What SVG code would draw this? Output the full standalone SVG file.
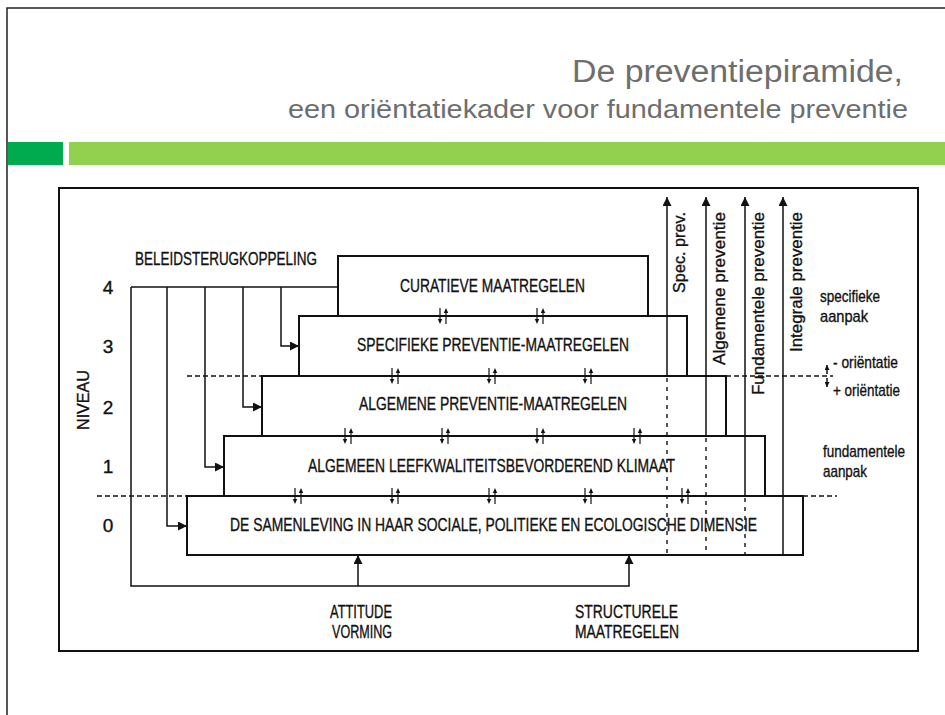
<svg xmlns="http://www.w3.org/2000/svg" width="945" height="715" viewBox="0 0 945 715">
<style>
text{font-family:"Liberation Sans",Arial,sans-serif;fill:#111}
.ttl{fill:#6e6e6e}
.d{stroke:#111;stroke-width:0.35}
.box{fill:#fff;stroke:#111;stroke-width:2}
.ln{fill:none;stroke:#111;stroke-width:1.5}
.dash{fill:none;stroke:#111;stroke-width:1.5;stroke-dasharray:5 3}
.vdash{fill:none;stroke:#111;stroke-width:1.4;stroke-dasharray:4 5}
.lbl{font-size:19px;text-anchor:middle}
.num{font-size:19px;text-anchor:middle}
.side{font-size:17px}
.vt{font-size:17px;text-anchor:end}
</style>
<defs>
<marker id="ah" viewBox="0 0 10 10" refX="10" refY="5" markerWidth="9" markerHeight="9" markerUnits="userSpaceOnUse" orient="auto">
<path d="M0,0 L10,5 L0,10 z" fill="#111"/>
</marker>
<marker id="ahs" viewBox="0 0 10 10" refX="10" refY="5" markerWidth="5" markerHeight="5" markerUnits="userSpaceOnUse" orient="auto">
<path d="M0,0 L10,5 L0,10 z" fill="#111"/>
</marker>
<g id="pair">
<path d="M-3,-8 V3" stroke="#111" stroke-width="1.2" fill="none"/>
<path d="M-5.2,3 L-0.8,3 L-3,8 z" fill="#111"/>
<path d="M3,8 V-3" stroke="#111" stroke-width="1.2" fill="none"/>
<path d="M0.8,-3 L5.2,-3 L3,-8 z" fill="#111"/>
</g>
</defs>
<rect x="0" y="0" width="945" height="715" fill="#fff"/>
<g id="slide-frame">
<path d="M7,715 V8 H945" fill="none" stroke="#222" stroke-width="1.5"/>
</g>
<g id="title">
<text class="ttl" x="903" y="82" font-size="31" text-anchor="end" textLength="331" lengthAdjust="spacingAndGlyphs">De preventiepiramide,</text>
<text class="ttl" x="908" y="118" font-size="26" text-anchor="end" textLength="620" lengthAdjust="spacingAndGlyphs">een oriëntatiekader voor fundamentele preventie</text>
</g>
<g id="bars">
<rect x="8" y="142" width="55" height="23" fill="#00aa4f"/>
<rect x="69" y="142" width="876" height="23" fill="#92d050"/>
</g>
<g id="frame">
<rect x="59" y="188" width="859" height="463" fill="none" stroke="#111" stroke-width="2"/>
</g>
<g id="node-level0"><rect class="box" x="187" y="496" width="616" height="59"/>
<text class="lbl d" x="493.5" y="531" textLength="527" lengthAdjust="spacingAndGlyphs">DE SAMENLEVING IN HAAR SOCIALE, POLITIEKE EN ECOLOGISCHE DIMENSIE</text></g>
<g id="node-level1"><rect class="box" x="224" y="436" width="541" height="60"/>
<text class="lbl d" x="491.5" y="472" textLength="367" lengthAdjust="spacingAndGlyphs">ALGEMEEN LEEFKWALITEITSBEVORDEREND KLIMAAT</text></g>
<g id="node-level2"><rect class="box" x="262" y="376" width="464" height="60"/>
<text class="lbl d" x="493" y="410" textLength="268" lengthAdjust="spacingAndGlyphs">ALGEMENE PREVENTIE-MAATREGELEN</text></g>
<g id="node-level3"><rect class="box" x="299" y="316" width="388" height="60"/>
<text class="lbl d" x="493" y="351" textLength="272" lengthAdjust="spacingAndGlyphs">SPECIFIEKE PREVENTIE-MAATREGELEN</text></g>
<g id="node-level4"><rect class="box" x="338" y="256" width="310" height="60"/>
<text class="lbl d" x="492.5" y="292" textLength="185" lengthAdjust="spacingAndGlyphs">CURATIEVE MAATREGELEN</text></g>
<g id="connectors">
<path class="ln" d="M131,287 H338"/>
<path class="ln" d="M281,287 V346 H299" marker-end="url(#ah)"/>
<path class="ln" d="M243,287 V407 H262" marker-end="url(#ah)"/>
<path class="ln" d="M205,287 V467 H224" marker-end="url(#ah)"/>
<path class="ln" d="M167,287 V526 H187" marker-end="url(#ah)"/>
<path class="ln" d="M131,287 V586 H629 V555" marker-end="url(#ah)"/>
<path class="ln" d="M358,586 V555" marker-end="url(#ah)"/>
<path class="ln" d="M667,376 V197" marker-end="url(#ah)"/>
<path class="vdash" d="M667,378 V555"/>
<path class="ln" d="M706,436 V197" marker-end="url(#ah)"/>
<path class="vdash" d="M706,438 V555"/>
<path class="ln" d="M745,496 V197" marker-end="url(#ah)"/>
<path class="vdash" d="M745,498 V555"/>
<path class="ln" d="M783,555 V197" marker-end="url(#ah)"/>
<path class="dash" d="M187,376 H262"/>
<path class="dash" d="M726,376 H833"/>
<path class="dash" d="M97,496 H187"/>
<path class="dash" d="M803,496 H837"/>
<path class="ln" d="M827,374 V365" marker-end="url(#ahs)"/>
<path class="ln" d="M827,378 V387" marker-end="url(#ahs)"/>
<use href="#pair" x="443" y="316"/>
<use href="#pair" x="540" y="316"/>
<use href="#pair" x="395" y="376"/>
<use href="#pair" x="492" y="376"/>
<use href="#pair" x="588" y="376"/>
<use href="#pair" x="348" y="436"/>
<use href="#pair" x="445" y="436"/>
<use href="#pair" x="540" y="436"/>
<use href="#pair" x="637" y="436"/>
<use href="#pair" x="298" y="496"/>
<use href="#pair" x="395" y="496"/>
<use href="#pair" x="492" y="496"/>
<use href="#pair" x="588" y="496"/>
<use href="#pair" x="685" y="496"/>
</g>
<g id="labels">
<text class="d" x="135" y="265" font-size="18" textLength="182" lengthAdjust="spacingAndGlyphs">BELEIDSTERUGKOPPELING</text>
<text class="num d" x="108" y="294">4</text>
<text class="num d" x="108" y="353">3</text>
<text class="num d" x="108" y="414">2</text>
<text class="num d" x="108" y="473">1</text>
<text class="num d" x="108" y="532">0</text>
<text class="d" font-size="17" text-anchor="middle" transform="translate(89,400) rotate(-90)" textLength="60" lengthAdjust="spacingAndGlyphs">NIVEAU</text>
<text class="vt d" transform="translate(685,212) rotate(-90)" textLength="81" lengthAdjust="spacingAndGlyphs">Spec. prev.</text>
<text class="vt d" transform="translate(725,212) rotate(-90)" textLength="153" lengthAdjust="spacingAndGlyphs">Algemene preventie</text>
<text class="vt d" transform="translate(764,212) rotate(-90)" textLength="183" lengthAdjust="spacingAndGlyphs">Fundamentele preventie</text>
<text class="vt d" transform="translate(802,212) rotate(-90)" textLength="140" lengthAdjust="spacingAndGlyphs">Integrale preventie</text>
<text class="side d" x="820" y="302" textLength="60" lengthAdjust="spacingAndGlyphs">specifieke</text>
<text class="side d" x="820" y="322" textLength="48" lengthAdjust="spacingAndGlyphs">aanpak</text>
<text class="side d" x="833" y="368" textLength="65" lengthAdjust="spacingAndGlyphs">- oriëntatie</text>
<text class="side d" x="833" y="396" textLength="67" lengthAdjust="spacingAndGlyphs">+ oriëntatie</text>
<text class="side d" x="823" y="457" textLength="82" lengthAdjust="spacingAndGlyphs">fundamentele</text>
<text class="side d" x="823" y="477" textLength="44" lengthAdjust="spacingAndGlyphs">aanpak</text>
<text class="d" x="330" y="618" font-size="18.5" textLength="62" lengthAdjust="spacingAndGlyphs">ATTITUDE</text>
<text class="d" x="332" y="638" font-size="18.5" textLength="60" lengthAdjust="spacingAndGlyphs">VORMING</text>
<text class="d" x="575" y="618" font-size="18.5" textLength="103" lengthAdjust="spacingAndGlyphs">STRUCTURELE</text>
<text class="d" x="575" y="638" font-size="18.5" textLength="104" lengthAdjust="spacingAndGlyphs">MAATREGELEN</text>
</g>
</svg>
